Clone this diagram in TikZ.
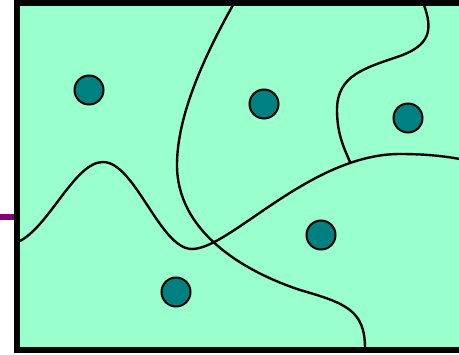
\documentclass[tikz,border=0pt]{standalone}
\usepackage{tikz}
\usetikzlibrary{positioning}
\definecolor{mintfill}{RGB}{153,255,204}
\definecolor{dotteal}{RGB}{0,128,128}
\definecolor{portpurple}{RGB}{128,0,128}

\begin{document}
\begin{tikzpicture}[
    x=1pt, y=-1pt,
    dot/.style={circle, draw=black, fill=dotteal, line width=2pt, minimum size=29pt, inner sep=0pt},
    border/.style={draw=black, fill=mintfill, line width=6pt},
    wall/.style={draw=black, line width=2.4pt, line cap=round}
]
\useasboundingbox (0,0) rectangle (459,355);
% field with thick frame, open to the right
\path[border] (17,3) rectangle (480,350);
\draw[portpurple, line width=6pt] (0,217) -- (14,217);
% region boundaries
\draw[wall] (20,241) .. controls (50,225) and (75,162) .. (103,162)
    .. controls (135,162) and (160,249) .. (192,249)
    .. controls (230,249) and (310,154) .. (400,154)
    .. controls (430,154) and (450,157) .. (465,160);
\draw[wall] (233,5) .. controls (205,55) and (177,115) .. (177,165)
    .. controls (177,230) and (240,270) .. (300,290)
    .. controls (345,303) and (365,310) .. (365,348);
\draw[wall] (424,5) .. controls (433,30) and (430,45) .. (400,56)
    .. controls (365,68) and (337,75) .. (337,110)
    .. controls (337,135) and (345,150) .. (350,162);
% sites
\node[dot] (s1) at (89,90) {};
\node[dot] (s2) at (264,104) {};
\node[dot] (s3) at (408,118) {};
\node[dot] (s4) at (321,235) {};
\node[dot] (s5) at (176,292) {};
\end{tikzpicture}
\end{document}
